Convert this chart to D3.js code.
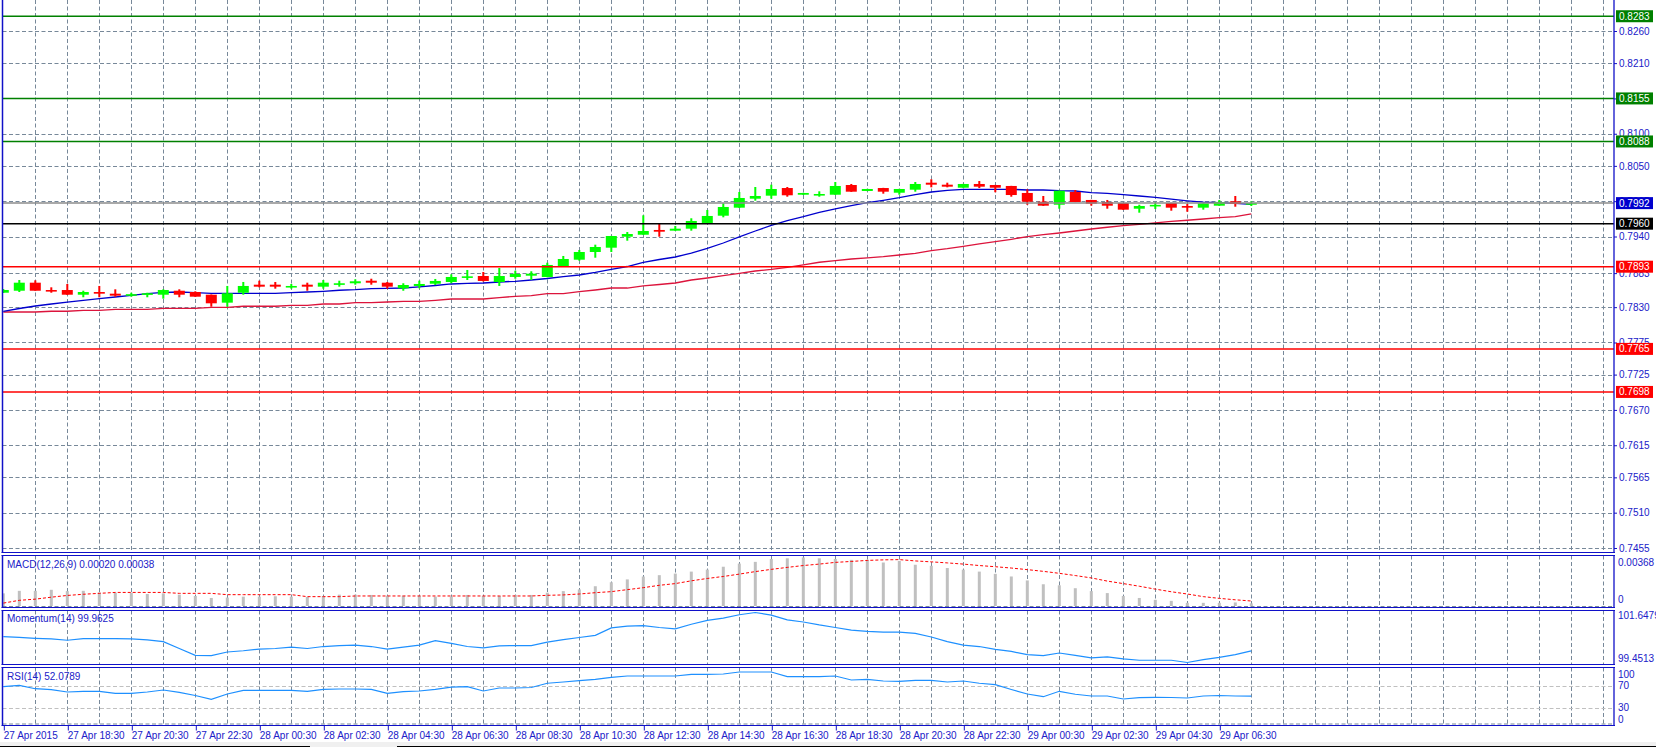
<!DOCTYPE html>
<html><head><meta charset="utf-8">
<script src="https://cdn.jsdelivr.net/npm/d3@7"></script>
<style>
html,body{margin:0;padding:0;background:#fff;overflow:hidden}
svg{display:block}
text{font-family:"Liberation Sans",Arial,sans-serif;font-size:10px}
</style></head><body>
<svg id="c" width="1656" height="747"></svg>
<script>
// ---------------- DATA ----------------
const barOpen = [.78525,.78556,.78681,.78567,.78567,.78494,.78536,.78510,.78500,.78494,
.78494,.78556,.78536,.78494,.78370,.78525,.78650,.78650,.78628,.78650,
.78619,.78670,.78672,.78712,.78681,.78594,.78630,.78665,.78692,.78777,
.78785,.78692,.78770,.78790,.78770,.78941,.79039,.79159,.79226,.79397,
.79428,.79502,.79491,.79522,.79611,.79724,.79849,.79989,.80036,.80155,
.80051,.80058,.80051,.80202,.80109,.80155,.80082,.80129,.80238,.80207,
.80160,.80218,.80202,.80187,.80078,.79942,.79895,.80093,.79969,.79937,
.79922,.79833,.79891,.79922,.79875,.79849,.79880,.79948,.79906];
const barHigh = [.78583,.78723,.78718,.78609,.78661,.78556,.78630,.78578,.78525,.78525,
.78578,.78578,.78547,.78497,.78630,.78692,.78712,.78692,.78661,.78681,
.78723,.78712,.78734,.78743,.78692,.78672,.78712,.78739,.78812,.78879,
.78848,.78910,.78868,.78859,.78992,.79097,.79190,.79273,.79410,.79470,
.79730,.79595,.79564,.79684,.79813,.79917,.80093,.80171,.80207,.80171,
.80080,.80104,.80249,.80218,.80142,.80158,.80142,.80249,.80291,.80238,
.80220,.80264,.80204,.80189,.80135,.80031,.80115,.80124,.79971,.79969,
.79924,.79895,.79930,.79924,.79906,.79922,.79969,.80031,.79945];
const barLow = [.78521,.78536,.78556,.78525,.78490,.78454,.78454,.78463,.78463,.78454,
.78432,.78454,.78460,.78307,.78307,.78494,.78609,.78588,.78588,.78556,
.78588,.78619,.78650,.78650,.78588,.78556,.78594,.78645,.78672,.78723,
.78700,.78630,.78743,.78723,.78765,.78930,.79024,.79070,.79159,.79335,
.79425,.79397,.79488,.79491,.79606,.79699,.79845,.79958,.79989,.80020,
.80048,.80020,.80048,.80095,.80107,.80067,.80051,.80098,.80166,.80166,
.80158,.80155,.80089,.80020,.79895,.79877,.79833,.79935,.79880,.79833,
.79815,.79771,.79829,.79802,.79786,.79818,.79877,.79864,.79875];
const barClose = [.78567,.78681,.78556,.78565,.78494,.78536,.78510,.78479,.78502,.78516,
.78567,.78494,.78463,.78360,.78516,.78630,.78619,.78619,.78630,.78619,
.78681,.78672,.78703,.78681,.78619,.78645,.78661,.78708,.78770,.78780,
.78708,.78785,.78816,.78821,.78957,.79050,.79159,.79237,.79408,.79439,
.79486,.79475,.79522,.79642,.79720,.79860,.80000,.80031,.80140,.80042,
.80078,.80062,.80187,.80098,.80140,.80098,.80140,.80218,.80207,.80176,
.80218,.80176,.80160,.80046,.79942,.79880,.80113,.79937,.79911,.79880,
.79818,.79875,.79893,.79849,.79849,.79917,.79937,.79906,.79920];
const maFast = [.78236,.78279,.78318,.78349,.78380,.78407,.78432,.78458,.78485,.78510,
.78531,.78536,.78525,.78516,.78516,.78516,.78516,.78516,.78525,.78536,
.78547,.78563,.78572,.78588,.78594,.78598,.78617,.78637,.78661,.78669,
.78676,.78692,.78703,.78723,.78746,.78777,.78801,.78840,.78887,.78933,
.78999,.79042,.79081,.79143,.79214,.79299,.79393,.79486,.79572,.79649,
.79709,.79777,.79829,.79880,.79927,.79964,.80004,.80051,.80093,.80120,
.80135,.80135,.80135,.80135,.80124,.80124,.80113,.80109,.80082,.80073,
.80051,.80031,.80008,.79981,.79956,.79934,.79927,.79917,.79902];
const maSlow = [.78225,.78225,.78225,.78236,.78236,.78251,.78251,.78267,.78267,.78267,
.78282,.78282,.78282,.78298,.78298,.78314,.78314,.78314,.78329,.78329,
.78349,.78349,.78370,.78370,.78380,.78391,.78391,.78407,.78427,.78427,
.78427,.78447,.78469,.78479,.78510,.78510,.78541,.78567,.78598,.78598,
.78630,.78653,.78676,.78723,.78754,.78790,.78827,.78863,.78887,.78918,
.78957,.78999,.79024,.79050,.79066,.79086,.79112,.79139,.79179,.79210,
.79248,.79284,.79319,.79357,.79397,.79428,.79455,.79486,.79517,.79544,
.79569,.79590,.79611,.79637,.79653,.79673,.79693,.79709,.79751];
const macdHist = [.00096,.00115,.00115,.00123,.00113,.00115,.00103,.00101,.00101,.00091,
.00096,.00086,.00076,.00061,.00064,.00071,.00071,.00074,.00071,.00069,
.00076,.00086,.00086,.00084,.00078,.00078,.00078,.00071,.00071,.00084,
.00076,.00076,.00084,.00084,.00101,.00113,.00126,.00150,.00180,.00202,
.00224,.00234,.00246,.00261,.00276,.00298,.00322,.00335,.00357,.00362,
.00368,.00362,.00357,.00350,.00350,.00330,.00342,.00313,.00305,.00288,
.00276,.00261,.00244,.00224,.00194,.00165,.00157,.00135,.00113,.00098,
.00076,.00061,.00047,.00039,.00024,.00024,.00024,.00027,.00020];
const macdSignal = [.00022,.00043,.00052,.00067,.00080,.00089,.00096,.00103,.00103,.00103,
.00103,.00096,.00096,.00096,.00086,.00086,.00086,.00086,.00086,.00071,
.00071,.00071,.00076,.00076,.00076,.00076,.00076,.00076,.00076,.00076,
.00076,.00076,.00076,.00076,.00081,.00084,.00091,.00101,.00109,.00124,
.00139,.00157,.00170,.00191,.00209,.00224,.00242,.00261,.00278,.00293,
.00307,.00318,.00331,.00338,.00346,.00350,.00352,.00342,.00335,.00327,
.00318,.00307,.00298,.00288,.00276,.00263,.00248,.00231,.00213,.00189,
.00170,.00150,.00128,.00108,.00091,.00071,.00058,.00047,.00038];
const momentum = [100.584,100.558,100.515,100.485,100.429,100.498,100.498,100.498,100.485,100.442,
100.369,100.067,99.766,99.753,99.912,99.968,100.041,100.067,100.128,100.067,
100.153,100.196,100.214,100.153,100.041,100.128,100.214,100.412,100.291,100.153,
100.097,100.184,100.196,100.196,100.343,100.455,100.550,100.644,100.972,101.045,
101.075,100.989,100.929,101.131,101.303,101.402,101.549,101.6479,101.532,101.325,
101.230,101.101,100.989,100.873,100.817,100.787,100.787,100.731,100.571,100.369,
100.214,100.153,100.024,99.938,99.796,99.753,99.869,99.766,99.654,99.697,
99.611,99.550,99.550,99.550,99.4513,99.581,99.680,99.796,99.9625];
const rsi = [69.3,71.8,65.6,63.8,59.6,60.9,60.9,57.3,57.3,59.6,
63.3,59.1,53.3,46.4,56.0,62.7,62.7,62.7,62.7,60.9,
64.5,65.1,65.1,64.5,57.3,60.2,61.5,64.5,68.4,69.3,
61.5,66.9,66.9,67.8,75.5,77.8,80.2,82.7,86.4,88.7,
88.7,88.7,88.7,91.8,91.8,92.4,96.0,96.0,96.0,87.5,
87.5,87.5,88.7,81.5,82.7,79.6,79.1,80.9,80.9,77.8,
79.6,75.5,72.9,64.2,56.0,51.1,60.9,55.5,52.4,52.4,
46.9,49.3,50.0,49.6,48.7,52.4,53.3,52.4,52.0789];
const priceTicks = [0.8260,0.8210,0.8155,0.8100,0.8050,0.7995,0.7940,0.7883,0.7830,0.7775,0.7725,0.7670,0.7615,0.7565,0.7510,0.7455];
const levelPrices = [0.8283,0.8155,0.8088,0.7992,0.7960,0.7893,0.7765,0.7698];
const xTickBars = [0,4,8,12,16,20,24,28,32,36,40,44,48,52,56,60,64,68,72,76];
const xTickLabels = ["27 Apr 2015","27 Apr 18:30","27 Apr 20:30","27 Apr 22:30","28 Apr 00:30","28 Apr 02:30",
"28 Apr 04:30","28 Apr 06:30","28 Apr 08:30","28 Apr 10:30","28 Apr 12:30","28 Apr 14:30","28 Apr 16:30",
"28 Apr 18:30","28 Apr 20:30","28 Apr 22:30","29 Apr 00:30","29 Apr 02:30","29 Apr 04:30","29 Apr 06:30"];
const macdAxisTicks = [0.00368, 0];
const rsiLevels = [70,30];
const rsiAxisTicks = [100,70,30,0];

// ---------------- STYLES ----------------
const levelLineColors = ['#008000','#008000','#008000','#8c8c8c','#000000','#ff0000','#ff0000','#ff0000'];
const levelBoxColors  = ['#008000','#008000','#008000','#0000cd','#000000','#ff0000','#ff0000','#ff0000'];
const AX = '#1010c8', TXT = '#2020c8', GRID = '#778899';
const BULL = '#00ff00', BEAR = '#ff0000';
const FONT = '"Liberation Sans",Arial,sans-serif';

// ---------------- LAYOUT ----------------
const svg = d3.select('#c');
const L = 2.5, R = 1614;
const panels = {
  main: [0, 552.5], macd: [555.5, 607.5], mom: [610.5, 664.5], rsi: [667.5, 725.5]
};
const x = d3.scaleLinear().domain([0, 100]).range([3.3, 1603.3]);
const yP = d3.scaleLinear().domain([0.7455, 0.8260]).range([548, 31]);
const yM = d3.scaleLinear().domain([0, 0.00368]).range([606, 557.5]);
const yMo = d3.scaleLinear().domain([d3.min(momentum), d3.max(momentum)]).range([662.5, 612.5]);
const yR = d3.scaleLinear().domain([0, 100]).range([724.8, 669.8]);
const idx = d3.range(barClose.length);

const defs = svg.append('defs');
Object.entries(panels).forEach(([k, [t, b]]) => {
  defs.append('clipPath').attr('id', 'clip-' + k).append('rect')
    .attr('x', L).attr('y', t).attr('width', R - L).attr('height', b - t);
});

// bottom strip
svg.append('rect').attr('x', 0).attr('y', 742).attr('width', 1656).attr('height', 5).attr('fill', '#f0f0f0');
svg.append('line').attr('x1', 0).attr('x2', 310).attr('y1', 746.5).attr('y2', 746.5).attr('stroke', '#000');
svg.append('line').attr('x1', 397).attr('x2', 1656).attr('y1', 746.5).attr('y2', 746.5).attr('stroke', '#000');

// vertical grid in every panel
const vGrid = d3.range(2, 101, 2);
Object.entries(panels).forEach(([k, [t, b]]) => {
  svg.append('g').selectAll('line').data(vGrid).join('line')
    .attr('x1', d => Math.round(x(d)) + 0.5).attr('x2', d => Math.round(x(d)) + 0.5)
    .attr('y1', t).attr('y2', b)
    .attr('stroke', GRID).attr('stroke-dasharray', '4,2.5');
});

// main horizontal grid
svg.append('g').selectAll('line').data(priceTicks).join('line')
  .attr('x1', L).attr('x2', R)
  .attr('y1', d => Math.round(yP(d)) + 0.5).attr('y2', d => Math.round(yP(d)) + 0.5)
  .attr('stroke', GRID).attr('stroke-dasharray', '4,2.5');

// ---------------- MAIN PANEL ----------------
const gMain = svg.append('g').attr('clip-path', 'url(#clip-main)');
const lineP = arr => d3.line().x(i => x(i)).y(i => yP(arr[i]))(idx);
gMain.append('path').attr('d', lineP(maSlow)).attr('fill', 'none').attr('stroke', '#dc143c').attr('stroke-width', 1.3);
gMain.append('path').attr('d', lineP(maFast)).attr('fill', 'none').attr('stroke', '#0000cd').attr('stroke-width', 1.3);

const candles = gMain.append('g').selectAll('g').data(idx).join('g');
const col = i => barClose[i] >= barOpen[i] ? BULL : BEAR;
candles.append('rect')
  .attr('x', i => x(i) - 1).attr('width', 2)
  .attr('y', i => yP(barHigh[i])).attr('height', i => Math.max(1, yP(barLow[i]) - yP(barHigh[i])))
  .attr('fill', col);
candles.append('rect')
  .attr('x', i => x(i) - 5.5).attr('width', 11)
  .attr('y', i => Math.min(yP(barOpen[i]), yP(barClose[i])))
  .attr('height', i => Math.max(1.6, Math.abs(yP(barOpen[i]) - yP(barClose[i]))))
  .attr('fill', col);

// level lines
svg.append('g').selectAll('line').data(levelPrices).join('line')
  .attr('x1', L).attr('x2', R)
  .attr('y1', d => yP(d)).attr('y2', d => yP(d))
  .attr('stroke', (d, i) => levelLineColors[i]).attr('stroke-width', 1.5);

// price axis
const axP = svg.append('g').attr('transform', `translate(${R},0)`)
  .call(d3.axisRight(yP).tickValues(priceTicks).tickFormat(d3.format('.4f')).tickSize(3).tickPadding(2));
axP.select('.domain').remove();
axP.selectAll('line').attr('stroke', AX);
axP.selectAll('text').attr('fill', TXT).attr('font-size', '10px').attr('font-family', FONT);

// level boxes
const boxes = svg.append('g').selectAll('g').data(levelPrices).join('g');
boxes.append('rect').attr('x', 1616).attr('width', 37).attr('y', d => yP(d) - 6).attr('height', 12)
  .attr('fill', (d, i) => levelBoxColors[i]);
boxes.append('text').attr('x', 1619).attr('y', d => yP(d)).attr('dy', '0.35em')
  .attr('fill', '#fff').text(d => d.toFixed(4));

// ---------------- MACD ----------------
const gM = svg.append('g').attr('clip-path', 'url(#clip-macd)');
gM.append('line').attr('x1', L).attr('x2', R).attr('y1', 606.5).attr('y2', 606.5)
  .attr('stroke', GRID).attr('stroke-dasharray', '4,2.5');
gM.selectAll('rect.h').data(idx).join('rect').attr('class', 'h')
  .attr('x', i => x(i) - 1.5).attr('width', 3)
  .attr('y', i => yM(macdHist[i])).attr('height', i => yM(0) - yM(macdHist[i]))
  .attr('fill', '#c0c0c0');
gM.append('path').attr('d', d3.line().x(i => x(i)).y(i => yM(macdSignal[i]))(idx))
  .attr('fill', 'none').attr('stroke', '#ff0000').attr('stroke-width', 1).attr('stroke-dasharray', '3,2');
const fmt5 = d3.format('.5f');
svg.append('text').attr('x', 7).attr('y', 564).attr('dy', '0.35em').attr('fill', TXT)
  .text(`MACD(12,26,9) ${fmt5(macdHist[macdHist.length - 1])} ${fmt5(macdSignal[macdSignal.length - 1])}`);
const axM = svg.append('g').attr('transform', `translate(${R},0)`)
  .call(d3.axisRight(yM).tickValues(macdAxisTicks).tickFormat(d => d === 0 ? '0' : fmt5(d)).tickSize(0).tickPadding(4));
axM.select('.domain').remove();
axM.selectAll('text').attr('fill', TXT).attr('font-size', '10px').attr('font-family', FONT)
  .attr('transform', d => `translate(0,${d === 0 ? -6.3 : 4.5})`);

// ---------------- MOMENTUM ----------------
const gMo = svg.append('g').attr('clip-path', 'url(#clip-mom)');
gMo.append('path').attr('d', d3.line().x(i => x(i)).y(i => yMo(momentum[i]))(idx))
  .attr('fill', 'none').attr('stroke', '#1e90ff').attr('stroke-width', 1.2);
svg.append('text').attr('x', 7).attr('y', 618.7).attr('dy', '0.35em').attr('fill', TXT)
  .text(`Momentum(14) ${momentum[momentum.length - 1].toFixed(4)}`);
const axMo = svg.append('g').attr('transform', `translate(${R},0)`)
  .call(d3.axisRight(yMo).tickValues([d3.max(momentum), d3.min(momentum)]).tickFormat(d3.format('.4f')).tickSize(0).tickPadding(4));
axMo.select('.domain').remove();
axMo.selectAll('text').attr('fill', TXT).attr('font-size', '10px').attr('font-family', FONT)
  .attr('transform', (d, i) => `translate(0,${i === 0 ? 2.5 : -4.2})`);

// ---------------- RSI ----------------
const gR = svg.append('g').attr('clip-path', 'url(#clip-rsi)');
gR.selectAll('line.lv').data(rsiLevels).join('line').attr('class', 'lv')
  .attr('x1', L).attr('x2', R).attr('y1', d => Math.round(yR(d)) + 0.5).attr('y2', d => Math.round(yR(d)) + 0.5)
  .attr('stroke', '#c0c0c0').attr('stroke-dasharray', '4,2.5');
gR.append('line').attr('x1', L).attr('x2', R).attr('y1', 724).attr('y2', 724)
  .attr('stroke', GRID).attr('stroke-dasharray', '4,2.5');
gR.append('path').attr('d', d3.line().x(i => x(i)).y(i => yR(rsi[i]))(idx))
  .attr('fill', 'none').attr('stroke', '#1e90ff').attr('stroke-width', 1.2);
svg.append('text').attr('x', 7).attr('y', 676.7).attr('dy', '0.35em').attr('fill', TXT)
  .text(`RSI(14) ${rsi[rsi.length - 1].toFixed(4)}`);
const rOff = {100: 4.5, 70: -0.6, 30: -0.6, 0: -5.8};
const axR = svg.append('g').attr('transform', `translate(${R},0)`)
  .call(d3.axisRight(yR).tickValues(rsiAxisTicks).tickSize(0).tickPadding(4));
axR.select('.domain').remove();
axR.selectAll('text').attr('fill', TXT).attr('font-size', '10px').attr('font-family', FONT)
  .attr('transform', d => `translate(0,${rOff[d]})`);

// ---------------- PANEL BORDERS ----------------
Object.values(panels).forEach(([t, b]) => {
  svg.append('line').attr('x1', L - 1).attr('x2', R + 1).attr('y1', b).attr('y2', b).attr('stroke', AX).attr('stroke-width', 1.2);
  if (t > 0) svg.append('line').attr('x1', L - 1).attr('x2', R + 1).attr('y1', t).attr('y2', t).attr('stroke', AX).attr('stroke-width', 1.2);
  svg.append('line').attr('x1', L).attr('x2', L).attr('y1', t).attr('y2', b).attr('stroke', AX).attr('stroke-width', 1.5);
  svg.append('line').attr('x1', R).attr('x2', R).attr('y1', t).attr('y2', b).attr('stroke', AX).attr('stroke-width', 1.3);
});

// ---------------- TIME AXIS ----------------
const axX = svg.append('g').attr('transform', `translate(0,${panels.rsi[1]})`)
  .call(d3.axisBottom(x).tickValues(xTickBars).tickFormat((d, i) => xTickLabels[i]).tickSize(5));
axX.select('.domain').remove();
axX.selectAll('line').attr('stroke', AX).attr('transform', 'translate(0.5,0)');
axX.selectAll('text').attr('fill', TXT).attr('font-size', '10px').attr('font-family', FONT)
  .attr('text-anchor', 'start').attr('x', 0).attr('y', 10.2).attr('dy', '0.35em');
</script>
</body></html>
